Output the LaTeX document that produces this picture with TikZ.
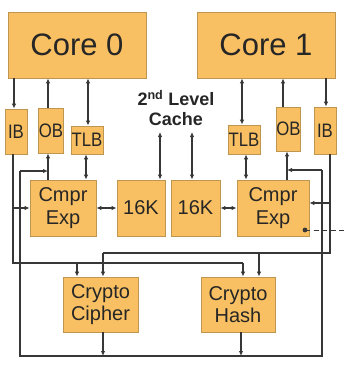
\documentclass[tikz,border=0pt]{standalone}
\usepackage{fontspec}
\setmainfont{Liberation Sans}
\usetikzlibrary{arrows.meta}
\definecolor{boxfill}{RGB}{248,192,98}
\definecolor{boxline}{RGB}{190,150,80}
\definecolor{wire}{RGB}{55,55,55}
\newcommand{\narrow}[1]{\scalebox{0.86}[1]{#1}}
\begin{document}
\begin{tikzpicture}[x=1pt,y=-1pt,
  box/.style={draw=boxline,fill=boxfill,line width=0.8pt,inner sep=0pt,align=center,text=black!85},
  big/.style={box,font=\fontsize{31}{34}\selectfont},
  small/.style={box,font=\fontsize{19.5}{21}\selectfont},
  mid/.style={box,font=\fontsize{20}{22.5}\selectfont},
  wl/.style={draw=wire,line width=1.1pt},
  arr/.style={wl,-{Latex[length=5pt,width=4.5pt]}},
  dbl/.style={wl,{Latex[length=5pt,width=4.5pt]}-{Latex[length=5pt,width=4.5pt]}},
  ]
\useasboundingbox (0,0) rectangle (344,370);
% boxes
\node[big,minimum width=138pt,minimum height=66pt] (core0) at (77,45) {Core 0};
\node[big,minimum width=138pt,minimum height=66pt] (core1) at (266,45) {Core 1};
\node[small,minimum width=22pt,minimum height=45pt] (ib0) at (16,131.5) {\narrow{IB}};
\node[small,minimum width=22pt,minimum height=45pt] (ob0) at (51,130.5) {\narrow{OB}};
\node[small,minimum width=32pt,minimum height=28pt] (tlb0) at (87,140) {\narrow{TLB}};
\node[small,minimum width=32pt,minimum height=29pt] (tlb1) at (244,139.5) {\narrow{TLB}};
\node[small,minimum width=21pt,minimum height=44pt] (ob1) at (288.5,129) {\narrow{OB}};
\node[small,minimum width=22pt,minimum height=47pt] (ib1) at (325,130.5) {\narrow{IB}};
\node[mid,minimum width=66pt,minimum height=56pt] (cmpr0) at (63,208) {Cmpr\\Exp};
\node[mid,minimum width=48pt,minimum height=56pt] (k0) at (141,208) {16K};
\node[mid,minimum width=49pt,minimum height=56pt] (k1) at (195.5,208) {16K};
\node[mid,minimum width=72pt,minimum height=56pt] (cmpr1) at (273,208) {Cmpr\\Exp};
\node[mid,minimum width=75pt,minimum height=55pt] (cipher) at (100.5,304.5) {Crypto\\Cipher};
\node[mid,minimum width=74pt,minimum height=55pt] (hash) at (238,304.5) {Crypto\\Hash};
\node[align=center,font=\bfseries\fontsize{18}{19.5}\selectfont,text=black!85,inner sep=1pt] (cache) at (176,108) {2\textsuperscript{nd} Level\\Cache};
% core connections
\draw[arr] (core0.south -| 14,0) -- (ib0.north -| 14,0);
\draw[arr] (ob0.north -| 48,0) -- (core0.south -| 48,0);
\draw[dbl] (core0.south -| 88,0) -- (tlb0.north -| 88,0);
\draw[dbl] (core1.south -| 242,0) -- (tlb1.north -| 242,0);
\draw[arr] (ob1.north -| 283,0) -- (core1.south -| 283,0);
\draw[arr] (core1.south -| 326,0) -- (ib1.north -| 326,0);
% TLB / OB to compressors
\draw[dbl] (tlb0.south -| 86,0) -- (cmpr0.north -| 86,0);
\draw[arr] (cmpr0.north -| 48,0) -- (ob0.south -| 48,0);
\draw[dbl] (tlb1.south -| 246,0) -- (cmpr1.north -| 246,0);
\draw[arr] (cmpr1.north -| 287,0) -- (ob1.south -| 287,0);
% cache
\draw[dbl] (160,132) -- (k0.north -| 160,0);
\draw[dbl] (192,132) -- (k1.north -| 192,0);
\draw[dbl] (cmpr0.east) -- (k0.west);
\draw[dbl] (k1.east) -- (cmpr1.west);
% left IB output
\draw[wl] (ib0.south -| 13,0) -- (13,263) -- (243,263);
\draw[arr] (243,263) -- (hash.north -| 243,0);
\draw[arr] (13,208) -- (cmpr0.west);
\draw[arr] (77,263) -- (cipher.north -| 77,0);
% right IB output
\draw[wl] (ib1.south -| 330,0) -- (330,253) -- (103,253);
\draw[arr] (103,253) -- (cipher.north -| 103,0);
\draw[arr] (259,253) -- (hash.north -| 259,0);
\draw[arr] (330,203) -- (cmpr1.east |- 0,203);
% bottom bus
\coordinate (busL) at (20,356);
\coordinate (busR) at (322,356);
\draw[wl] (20,171) -- (busL) -- (busR) -- (322,170);
\draw[arr] (20,171) -- (48,171);
\draw[arr] (322,170) -- (287,170);
\draw[arr] (cipher.south -| 103,0) -- (103,356);
\draw[arr] (hash.south -| 241,0) -- (241,356);
% dashed output
\coordinate (dashend) at (344,230);
\fill[wire] (305,230) circle (2.4pt);
\draw[wl,line width=1pt,dash pattern=on 5pt off 3.5pt] (305,230) -- (dashend);
\end{tikzpicture}
\end{document}
